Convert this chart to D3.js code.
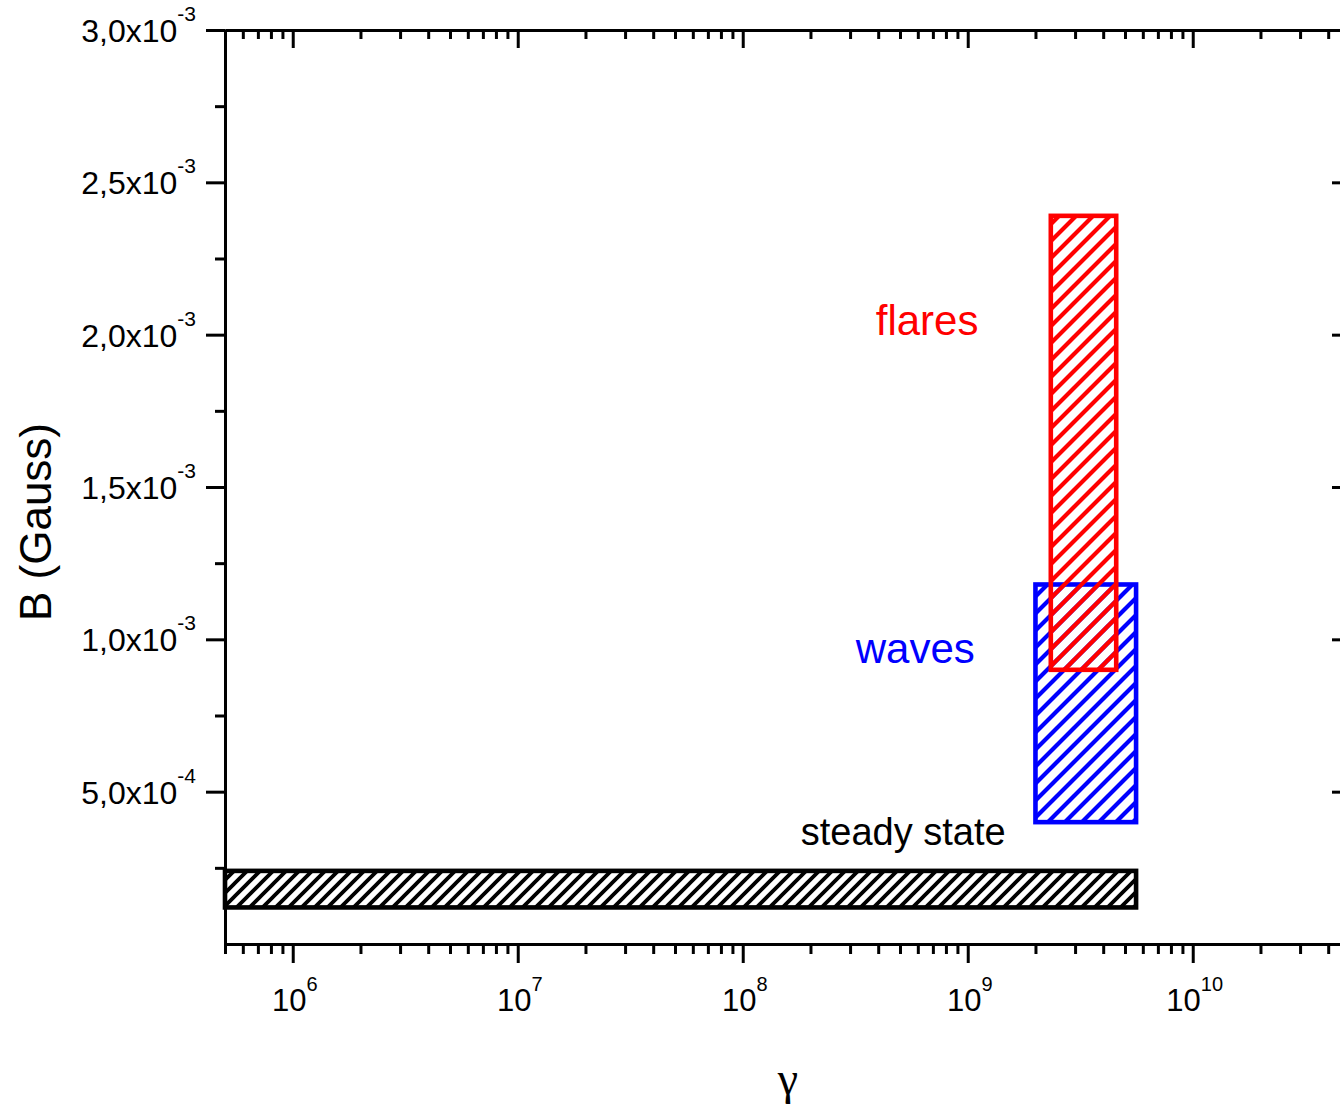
<!DOCTYPE html>
<html>
<head>
<meta charset="utf-8">
<script src="https://cdn.jsdelivr.net/npm/d3@7"></script>
<style>
  html, body { margin: 0; padding: 0; background: #fff; }
  svg { display: block; }
  text { font-family: "Liberation Sans", Arial, sans-serif; fill: #000; }
</style>
</head>
<body>
<script>
// ---- data ----
const xTickValues = [1e6, 1e7, 1e8, 1e9, 1e10];
const xTickExponents = ["6", "7", "8", "9", "10"];
const yTickValues = [0.0005, 0.001, 0.0015, 0.002, 0.0025, 0.003];
const yTickMantissas = ["5,0", "1,0", "1,5", "2,0", "2,5", "3,0"];
const yTickExponents = ["-4", "-3", "-3", "-3", "-3", "-3"];

const regionNames = ["steady state", "waves", "flares"];
const regionGammaMin = [5e5, 2.0e9, 2.34e9];
const regionGammaMax = [5.6e9, 5.6e9, 4.57e9];
const regionBMin = [1.2e-4, 4.0e-4, 9.0e-4];
const regionBMax = [2.4e-4, 1.18e-3, 2.39e-3];
const regionColors = ["#000000", "#0000ff", "#ff0000"];
const labelGamma = [1.81e8, 3.18e8, 3.9e8];
const labelB = [3.25e-4, 9.22e-4, 2.0e-3];

// ---- layout ----
const W = 1340, H = 1108;
const svg = d3.select("body").append("svg").attr("width", W).attr("height", H);

const x = d3.scaleLog().domain([5e5, 5e10]).range([225, 1350]);
const y = d3.scaleLinear().domain([0, 0.003]).range([944, 30]);

// minor ticks
const xMinor = [];
for (let e = 5; e <= 10; e++) for (let m = 2; m <= 9; m++) {
  const v = m * Math.pow(10, e);
  if (v >= 5e5 && v <= 5e10) xMinor.push(v);
}
const yMinor = d3.range(0, 13).map(i => i * 0.00025).filter(v => !yTickValues.some(t => Math.abs(t - v) < 1e-9) && v > 0);

// patterns
const defs = svg.append("defs");
const spacing = [13, 17, 17];
const hatchW = [3.8, 4.2, 4.2];
regionColors.forEach((c, i) => {
  const s = spacing[i];
  const p = defs.append("pattern")
    .attr("id", "hatch" + i)
    .attr("patternUnits", "userSpaceOnUse")
    .attr("width", s).attr("height", s);
  p.append("path")
    .attr("d", `M${-s/2},${s/2} L${s/2},${-s/2} M0,${s} L${s},0 M${s/2},${1.5*s} L${1.5*s},${s/2}`)
    .attr("stroke", c).attr("stroke-width", hatchW[i]).attr("fill", "none");
});

// regions
const regions = regionNames.map((n, i) => ({
  name: n, x0: regionGammaMin[i], x1: regionGammaMax[i], y0: regionBMin[i], y1: regionBMax[i], color: regionColors[i], idx: i
}));
svg.append("g").selectAll("rect").data(regions).join("rect")
  .attr("x", d => x(d.x0))
  .attr("y", d => y(d.y1))
  .attr("width", d => x(d.x1) - x(d.x0))
  .attr("height", d => y(d.y0) - y(d.y1))
  .attr("fill", d => `url(#hatch${d.idx})`)
  .attr("stroke", d => d.color)
  .attr("stroke-width", 4.6);

// labels
svg.append("g").selectAll("text").data(regions).join("text")
  .attr("x", (d, i) => x(labelGamma[i]))
  .attr("y", (d, i) => y(labelB[i]))
  .attr("text-anchor", "start")
  .style("font-size", (d, i) => ["38px", "42px", "42px"][i])
  .style("fill", d => d.color)
  .text(d => d.name);

// axes
function styleAxis(g) {
  g.select(".domain").attr("stroke-width", 3).attr("stroke", "#000");
  g.selectAll(".tick line").attr("stroke-width", 3).attr("stroke", "#000");
  g.selectAll(".tick text").remove();
}

// bottom
svg.append("g").attr("transform", `translate(0,944)`)
  .call(d3.axisBottom(x).tickValues(xTickValues).tickSize(19).tickSizeOuter(0).tickFormat(() => ""))
  .call(styleAxis);
svg.append("g").attr("transform", `translate(0,944)`)
  .call(d3.axisBottom(x).tickValues(xMinor).tickSize(10).tickSizeOuter(0).tickFormat(() => ""))
  .call(styleAxis);
// top (inward)
svg.append("g").attr("transform", `translate(0,30)`)
  .call(d3.axisBottom(x).tickValues(xTickValues).tickSize(18).tickSizeOuter(0).tickFormat(() => ""))
  .call(styleAxis);
svg.append("g").attr("transform", `translate(0,30)`)
  .call(d3.axisBottom(x).tickValues(xMinor).tickSize(9).tickSizeOuter(0).tickFormat(() => ""))
  .call(styleAxis);
// left
svg.append("g").attr("transform", `translate(225,0)`)
  .call(d3.axisLeft(y).tickValues(yTickValues).tickSize(19).tickSizeOuter(0).tickFormat(() => ""))
  .call(styleAxis);
svg.append("g").attr("transform", `translate(225,0)`)
  .call(d3.axisLeft(y).tickValues(yMinor).tickSize(10).tickSizeOuter(0).tickFormat(() => ""))
  .call(styleAxis);
// right (inward)
svg.append("g").attr("transform", `translate(1350,0)`)
  .call(d3.axisRight(y).tickValues(yTickValues).tickSize(-18).tickSizeOuter(0).tickFormat(() => ""))
  .call(styleAxis);
svg.append("g").attr("transform", `translate(1350,0)`)
  .call(d3.axisRight(y).tickValues(yMinor).tickSize(-9).tickSizeOuter(0).tickFormat(() => ""))
  .call(styleAxis);

// x tick labels
const xl = svg.append("g").selectAll("text").data(xTickValues).join("text")
  .attr("x", d => x(d) + 2)
  .attr("y", 1011)
  .attr("text-anchor", "middle")
  .style("font-size", "31px");
xl.append("tspan").text("10");
xl.append("tspan").attr("dy", -20).style("font-size", "20px").text((d, i) => xTickExponents[i]);

// y tick labels
const yl = svg.append("g").selectAll("text").data(yTickValues).join("text")
  .attr("x", 196)
  .attr("y", d => y(d) + 12)
  .attr("text-anchor", "end")
  .style("font-size", "32px");
yl.append("tspan").text((d, i) => yTickMantissas[i] + "x10");
yl.append("tspan").attr("dy", -21).style("font-size", "21px").text((d, i) => yTickExponents[i]);

// axis titles
svg.append("text")
  .attr("transform", "translate(51,522) rotate(-90)")
  .attr("text-anchor", "middle")
  .style("font-size", "44px")
  .text("B (Gauss)");
svg.append("text")
  .attr("x", 788).attr("y", 1094)
  .attr("text-anchor", "middle")
  .style("font-family", "'Liberation Serif', 'DejaVu Serif', serif")
  .style("font-size", "46px")
  .text("γ");
</script>
</body>
</html>
